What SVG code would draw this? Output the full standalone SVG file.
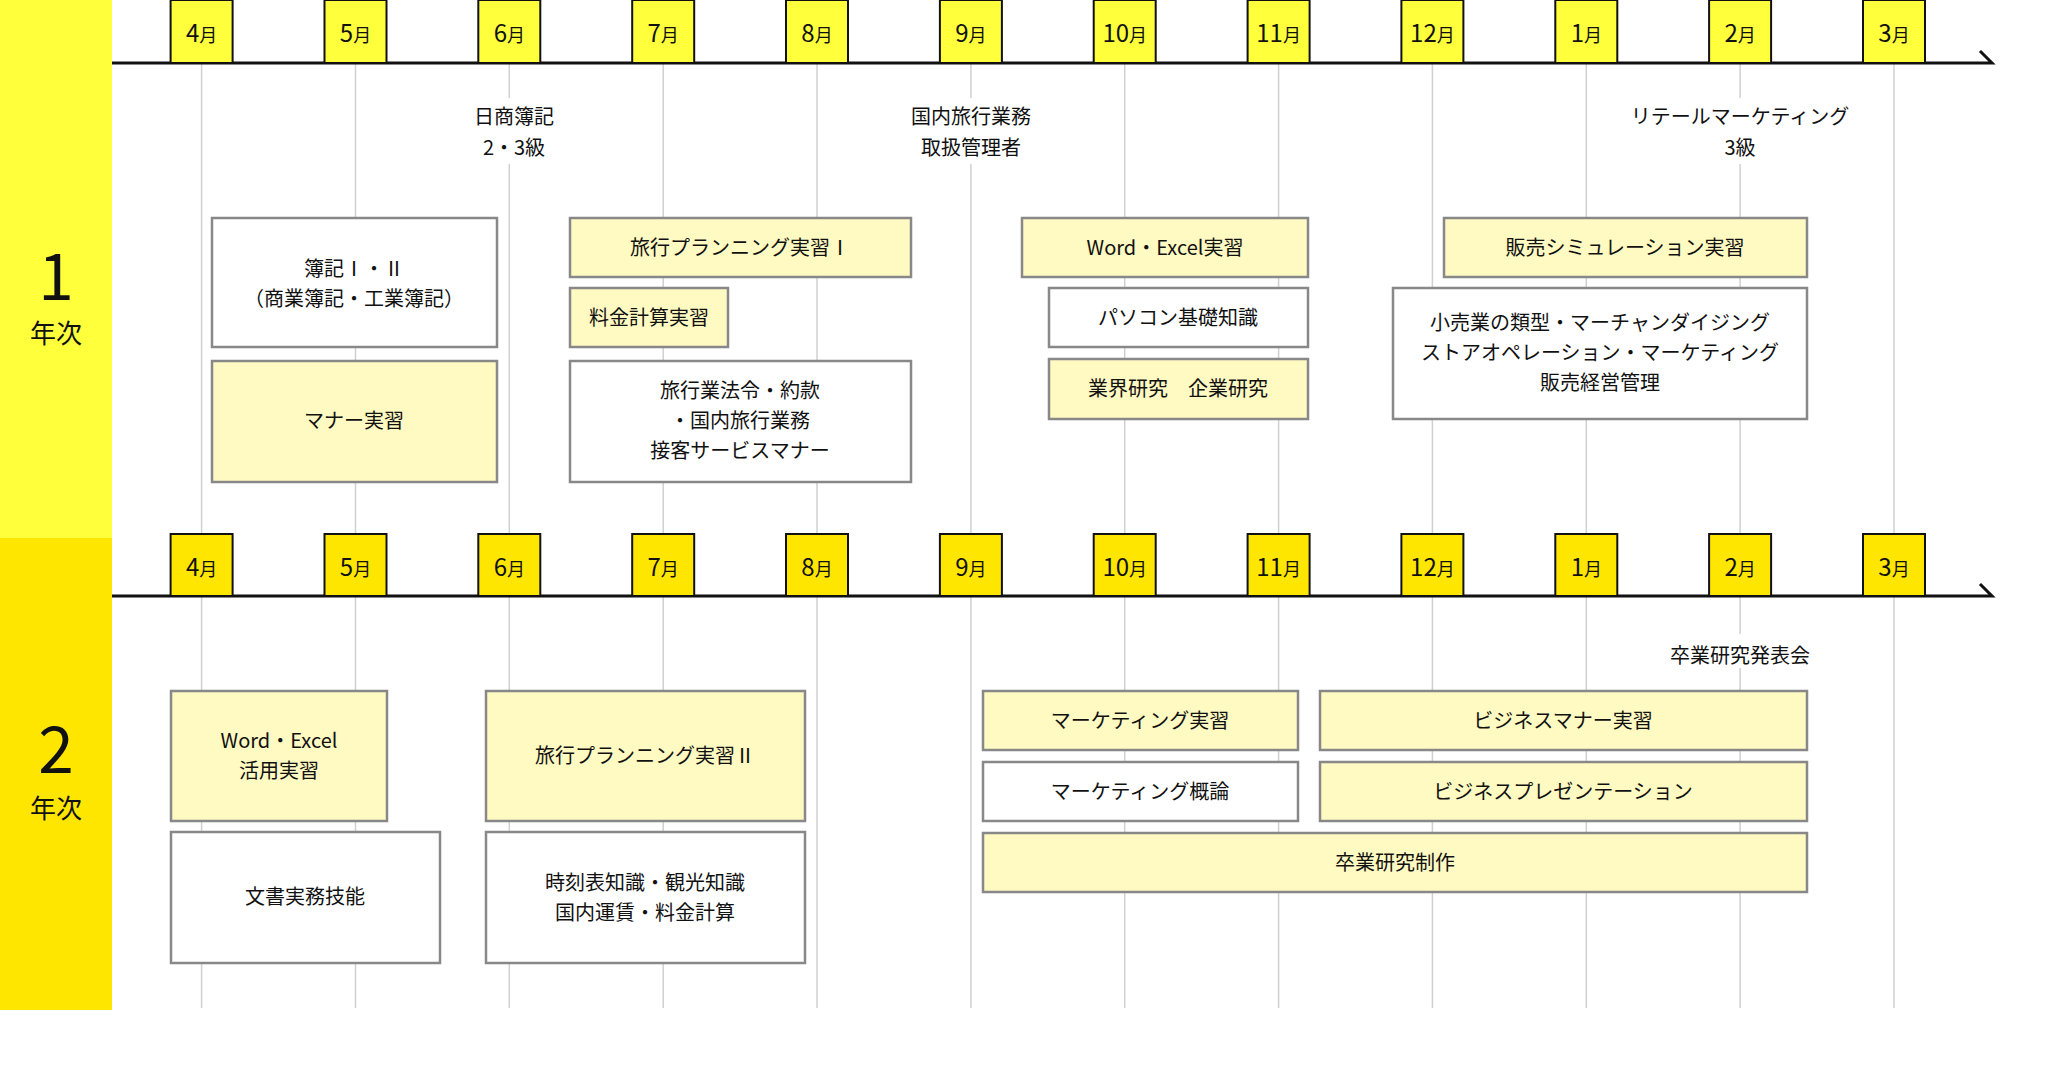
<svg xmlns="http://www.w3.org/2000/svg" width="2072" height="1072" viewBox="0 0 2072 1072">
<style>
text{font-family:"Noto Sans CJK JP","Noto Sans",sans-serif;fill:#111;text-anchor:middle}
.t{font-size:20px}
.g{stroke:#d0d0d0;stroke-width:1.5}
.m1{fill:#FFFF3C;stroke:#111;stroke-width:2}
.m2{fill:#FFE600;stroke:#111;stroke-width:2}
.bw{fill:#fff;stroke:#888;stroke-width:2.5}
.by{fill:#FFF9C2;stroke:#888;stroke-width:2.5}
.mt{font-size:24px}
.mt tspan{font-size:18px}
.ax{stroke:#111;stroke-width:3;fill:none}
</style>
<rect x="0" y="0" width="112" height="538" fill="#FFFF3C"/>
<rect x="0" y="538" width="112" height="472" fill="#FFE600"/>
<text x="56" y="300" font-size="64">1</text>
<text x="56" y="343" font-size="26">年次</text>
<text x="56" y="773" font-size="64">2</text>
<text x="56" y="818" font-size="26">年次</text>
<g id="grid">
<g class="g">
<line x1="201.6" y1="63" x2="201.6" y2="1008"/><line x1="355.5" y1="63" x2="355.5" y2="1008"/><line x1="509.3" y1="63" x2="509.3" y2="1008"/><line x1="663.2" y1="63" x2="663.2" y2="1008"/><line x1="817" y1="63" x2="817" y2="1008"/><line x1="970.9" y1="63" x2="970.9" y2="1008"/><line x1="1124.7" y1="63" x2="1124.7" y2="1008"/><line x1="1278.6" y1="63" x2="1278.6" y2="1008"/><line x1="1432.4" y1="63" x2="1432.4" y2="1008"/><line x1="1586.3" y1="63" x2="1586.3" y2="1008"/><line x1="1740.1" y1="63" x2="1740.1" y2="1008"/><line x1="1894" y1="63" x2="1894" y2="1008"/>
</g>
</g>
<g id="connectors">
<polyline class="ax" points="112,63 1992,63 1980,51"/>
<polyline class="ax" points="112,596 1992,596 1980,584"/>
</g>
<g id="months1">
<rect class="m1" x="170.6" y="0" width="62" height="63"/><rect class="m1" x="324.5" y="0" width="62" height="63"/><rect class="m1" x="478.3" y="0" width="62" height="63"/><rect class="m1" x="632.2" y="0" width="62" height="63"/><rect class="m1" x="786" y="0" width="62" height="63"/><rect class="m1" x="939.9" y="0" width="62" height="63"/><rect class="m1" x="1093.7" y="0" width="62" height="63"/><rect class="m1" x="1247.6" y="0" width="62" height="63"/><rect class="m1" x="1401.4" y="0" width="62" height="63"/><rect class="m1" x="1555.3" y="0" width="62" height="63"/><rect class="m1" x="1709.1" y="0" width="62" height="63"/><rect class="m1" x="1863" y="0" width="62" height="63"/>
<text class="mt" x="201.6" y="42">4<tspan>月</tspan></text><text class="mt" x="355.5" y="42">5<tspan>月</tspan></text><text class="mt" x="509.3" y="42">6<tspan>月</tspan></text><text class="mt" x="663.2" y="42">7<tspan>月</tspan></text><text class="mt" x="817" y="42">8<tspan>月</tspan></text><text class="mt" x="970.9" y="42">9<tspan>月</tspan></text><text class="mt" x="1124.7" y="42">10<tspan>月</tspan></text><text class="mt" x="1278.6" y="42">11<tspan>月</tspan></text><text class="mt" x="1432.4" y="42">12<tspan>月</tspan></text><text class="mt" x="1586.3" y="42">1<tspan>月</tspan></text><text class="mt" x="1740.1" y="42">2<tspan>月</tspan></text><text class="mt" x="1894" y="42">3<tspan>月</tspan></text>
</g>
<g id="months2">
<rect class="m2" x="170.6" y="534" width="62" height="62"/><rect class="m2" x="324.5" y="534" width="62" height="62"/><rect class="m2" x="478.3" y="534" width="62" height="62"/><rect class="m2" x="632.2" y="534" width="62" height="62"/><rect class="m2" x="786" y="534" width="62" height="62"/><rect class="m2" x="939.9" y="534" width="62" height="62"/><rect class="m2" x="1093.7" y="534" width="62" height="62"/><rect class="m2" x="1247.6" y="534" width="62" height="62"/><rect class="m2" x="1401.4" y="534" width="62" height="62"/><rect class="m2" x="1555.3" y="534" width="62" height="62"/><rect class="m2" x="1709.1" y="534" width="62" height="62"/><rect class="m2" x="1863" y="534" width="62" height="62"/>
<text class="mt" x="201.6" y="576">4<tspan>月</tspan></text><text class="mt" x="355.5" y="576">5<tspan>月</tspan></text><text class="mt" x="509.3" y="576">6<tspan>月</tspan></text><text class="mt" x="663.2" y="576">7<tspan>月</tspan></text><text class="mt" x="817" y="576">8<tspan>月</tspan></text><text class="mt" x="970.9" y="576">9<tspan>月</tspan></text><text class="mt" x="1124.7" y="576">10<tspan>月</tspan></text><text class="mt" x="1278.6" y="576">11<tspan>月</tspan></text><text class="mt" x="1432.4" y="576">12<tspan>月</tspan></text><text class="mt" x="1586.3" y="576">1<tspan>月</tspan></text><text class="mt" x="1740.1" y="576">2<tspan>月</tspan></text><text class="mt" x="1894" y="576">3<tspan>月</tspan></text>
</g>
<g id="labels">
<rect x="462" y="98" width="104" height="66" fill="#fff"/>
<text class="t" x="514" y="124">日商簿記</text><text class="t" x="514" y="155">2・3級</text>
<rect x="906" y="98" width="130" height="66" fill="#fff"/>
<text class="t" x="971" y="124">国内旅行業務</text><text class="t" x="971" y="155">取扱管理者</text>
<rect x="1616" y="98" width="250" height="66" fill="#fff"/>
<text class="t" x="1740" y="124">リテールマーケティング</text><text class="t" x="1740" y="155">3級</text>
<rect x="1660" y="634" width="160" height="34" fill="#fff"/>
<text class="t" x="1740" y="663">卒業研究発表会</text>
</g>
<g id="n1"><rect class="bw" x="212" y="218" width="285" height="129"/><text class="t" x="354" y="276">簿記Ⅰ・Ⅱ</text><text class="t" x="354" y="306">（商業簿記・工業簿記）</text></g>
<g id="n2"><rect class="by" x="212" y="361" width="285" height="121"/><text class="t" x="354" y="428">マナー実習</text></g>
<g id="n3"><rect class="by" x="570" y="218" width="341" height="59"/><text class="t" x="740" y="255">旅行プランニング実習Ⅰ</text></g>
<g id="n4"><rect class="by" x="570" y="288" width="158" height="59"/><text class="t" x="649" y="325">料金計算実習</text></g>
<g id="n5"><rect class="bw" x="570" y="361" width="341" height="121"/><text class="t" x="740" y="398">旅行業法令・約款</text><text class="t" x="740" y="428">・国内旅行業務</text><text class="t" x="740" y="458">接客サービスマナー</text></g>
<g id="n6"><rect class="by" x="1022" y="218" width="286" height="59"/><text class="t" x="1165" y="255">Word・Excel実習</text></g>
<g id="n7"><rect class="bw" x="1049" y="288" width="259" height="59"/><text class="t" x="1178" y="325">パソコン基礎知識</text></g>
<g id="n8"><rect class="by" x="1049" y="359" width="259" height="60"/><text class="t" x="1178" y="396">業界研究　企業研究</text></g>
<g id="n9"><rect class="by" x="1444" y="218" width="363" height="59"/><text class="t" x="1625" y="255">販売シミュレーション実習</text></g>
<g id="n10"><rect class="bw" x="1393" y="288" width="414" height="131"/><text class="t" x="1600" y="330">小売業の類型・マーチャンダイジング</text><text class="t" x="1600" y="360">ストアオペレーション・マーケティング</text><text class="t" x="1600" y="390">販売経営管理</text></g>
<g id="n11"><rect class="by" x="171" y="691" width="216" height="130"/><text class="t" x="279" y="748">Word・Excel</text><text class="t" x="279" y="778">活用実習</text></g>
<g id="n12"><rect class="bw" x="171" y="832" width="269" height="131"/><text class="t" x="305" y="904">文書実務技能</text></g>
<g id="n13"><rect class="by" x="486" y="691" width="319" height="130"/><text class="t" x="645" y="763">旅行プランニング実習Ⅱ</text></g>
<g id="n14"><rect class="bw" x="486" y="832" width="319" height="131"/><text class="t" x="645" y="890">時刻表知識・観光知識</text><text class="t" x="645" y="920">国内運賃・料金計算</text></g>
<g id="n15"><rect class="by" x="983" y="691" width="315" height="59"/><text class="t" x="1140" y="728">マーケティング実習</text></g>
<g id="n16"><rect class="bw" x="983" y="762" width="315" height="59"/><text class="t" x="1140" y="799">マーケティング概論</text></g>
<g id="n17"><rect class="by" x="983" y="833" width="824" height="59"/><text class="t" x="1395" y="870">卒業研究制作</text></g>
<g id="n18"><rect class="by" x="1320" y="691" width="487" height="59"/><text class="t" x="1563" y="728">ビジネスマナー実習</text></g>
<g id="n19"><rect class="by" x="1320" y="762" width="487" height="59"/><text class="t" x="1563" y="799">ビジネスプレゼンテーション</text></g>
</svg>
